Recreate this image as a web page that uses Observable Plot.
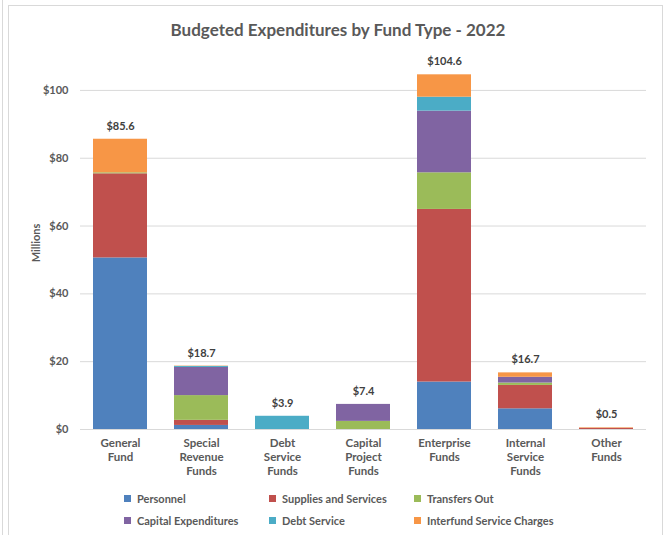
<!DOCTYPE html>
<html>
<head>
<meta charset="utf-8">
<script src="https://cdn.jsdelivr.net/npm/d3@7"></script>
<script src="https://cdn.jsdelivr.net/npm/@observablehq/plot@0.6"></script>
<style>
  html, body { margin: 0; padding: 0; background: #fff; }
  #wrap { position: relative; width: 668px; height: 535px; overflow: hidden; font-family: Lato, "Open Sans", sans-serif; }
  #frame { position: absolute; left: 8px; top: 5px; width: 655px; height: 540px; border: 1px solid #d9d9d9; box-sizing: border-box; }
  #edge { position: absolute; left: 2px; top: 0; width: 1px; height: 535px; background: #d9d9d9; }
  #chart { position: absolute; left: 0; top: 0; }
  #title { position: absolute; left: 0; width: 676px; top: 19px; text-align: center; font-size: 17px; font-weight: bold; color: #595959; }
  #legend { position: absolute; left: 124px; top: 487px; display: grid; grid-template-columns: 145px 145px 145px; grid-auto-rows: 22px; font-size: 11px; color: #595959; font-weight: bold; }
  .item { display: flex; align-items: center; white-space: nowrap; }
  .sw { width: 7px; height: 7px; margin-right: 6px; flex: none; }
</style>
</head>
<body>
<div id="wrap">
  <div id="edge"></div>
  <div id="frame"></div>
  <div id="chart"></div>
  <div id="title">Budgeted Expenditures by Fund Type - 2022</div>
  <div id="legend"></div>
</div>
<script>
const funds = ["General Fund", "Special Revenue Funds", "Debt Service Funds", "Capital Project Funds", "Enterprise Funds", "Internal Service Funds", "Other Funds"];
const tickLabels = ["General\nFund", "Special\nRevenue\nFunds", "Debt\nService\nFunds", "Capital\nProject\nFunds", "Enterprise\nFunds", "Internal\nService\nFunds", "Other\nFunds"];
const categories = ["Personnel", "Supplies and Services", "Transfers Out", "Capital Expenditures", "Debt Service", "Interfund Service Charges"];
const colors = ["#4F81BD", "#C0504D", "#9BBB59", "#8064A2", "#4BACC6", "#F79646"];

// values in $ millions, one per fund (same order as funds)
const personnel = [50.6, 1.2, 0, 0, 14.0, 6.1, 0];
const supplies = [24.8, 1.5, 0, 0, 50.9, 6.9, 0.35];
const transfersOut = [0.3, 7.3, 0, 2.4, 10.8, 0.7, 0];
const capitalExp = [0, 8.3, 0, 5.0, 18.2, 1.7, 0];
const debtService = [0, 0.3, 3.9, 0, 4.1, 0, 0];
const interfund = [9.9, 0.1, 0, 0, 6.6, 1.3, 0.15];
const yTicks = [0, 20, 40, 60, 80, 100];

const series = [personnel, supplies, transfersOut, capitalExp, debtService, interfund];
const data = [];
categories.forEach((c, ci) => funds.forEach((f, fi) => data.push({fund: f, category: c, value: series[ci][fi]})));
const labelFor = new Map(funds.map((f, i) => [f, tickLabels[i]]));

const chart = Plot.plot({
  width: 668,
  height: 480,
  marginTop: 56,
  marginBottom: 51,
  marginLeft: 80,
  marginRight: 22,
  style: {fontFamily: "Lato, 'Open Sans', sans-serif", color: "#595959", background: "transparent"},
  x: {domain: funds, paddingInner: 0.333, paddingOuter: 0.16, label: null},
  y: {domain: [0, 110], label: null},
  color: {domain: categories, range: colors},
  marks: [
    Plot.gridY(yTicks, {stroke: "#d9d9d9", strokeOpacity: 1}),
    Plot.barY(data, {x: "fund", y: "value", fill: "category"}),
    Plot.text(data, Plot.groupX(
      {y: "sum", text: v => "$" + d3.sum(v).toFixed(1)},
      {x: "fund", y: "value", text: "value", dy: -13, fontSize: 11, fontWeight: "bold", fill: "#404040"})),
    Plot.axisY({ticks: yTicks, tickFormat: d => "$" + d, tickSize: 0, tickPadding: 12, fontSize: 11, fontWeight: "bold",
      label: "Millions", labelAnchor: "center", labelArrow: "none", labelOffset: 48}),
    Plot.axisX({tickSize: 0, tickPadding: 7, tickFormat: d => labelFor.get(d), lineHeight: 1.25, fontSize: 11.5, fontWeight: "bold"})
  ]
});
document.getElementById("chart").appendChild(chart);

const legend = document.getElementById("legend");
categories.forEach((c, i) => {
  const it = document.createElement("div");
  it.className = "item";
  const sw = document.createElement("span");
  sw.className = "sw";
  sw.style.background = colors[i];
  it.appendChild(sw);
  it.appendChild(document.createTextNode(c));
  legend.appendChild(it);
});
</script>
</body>
</html>
